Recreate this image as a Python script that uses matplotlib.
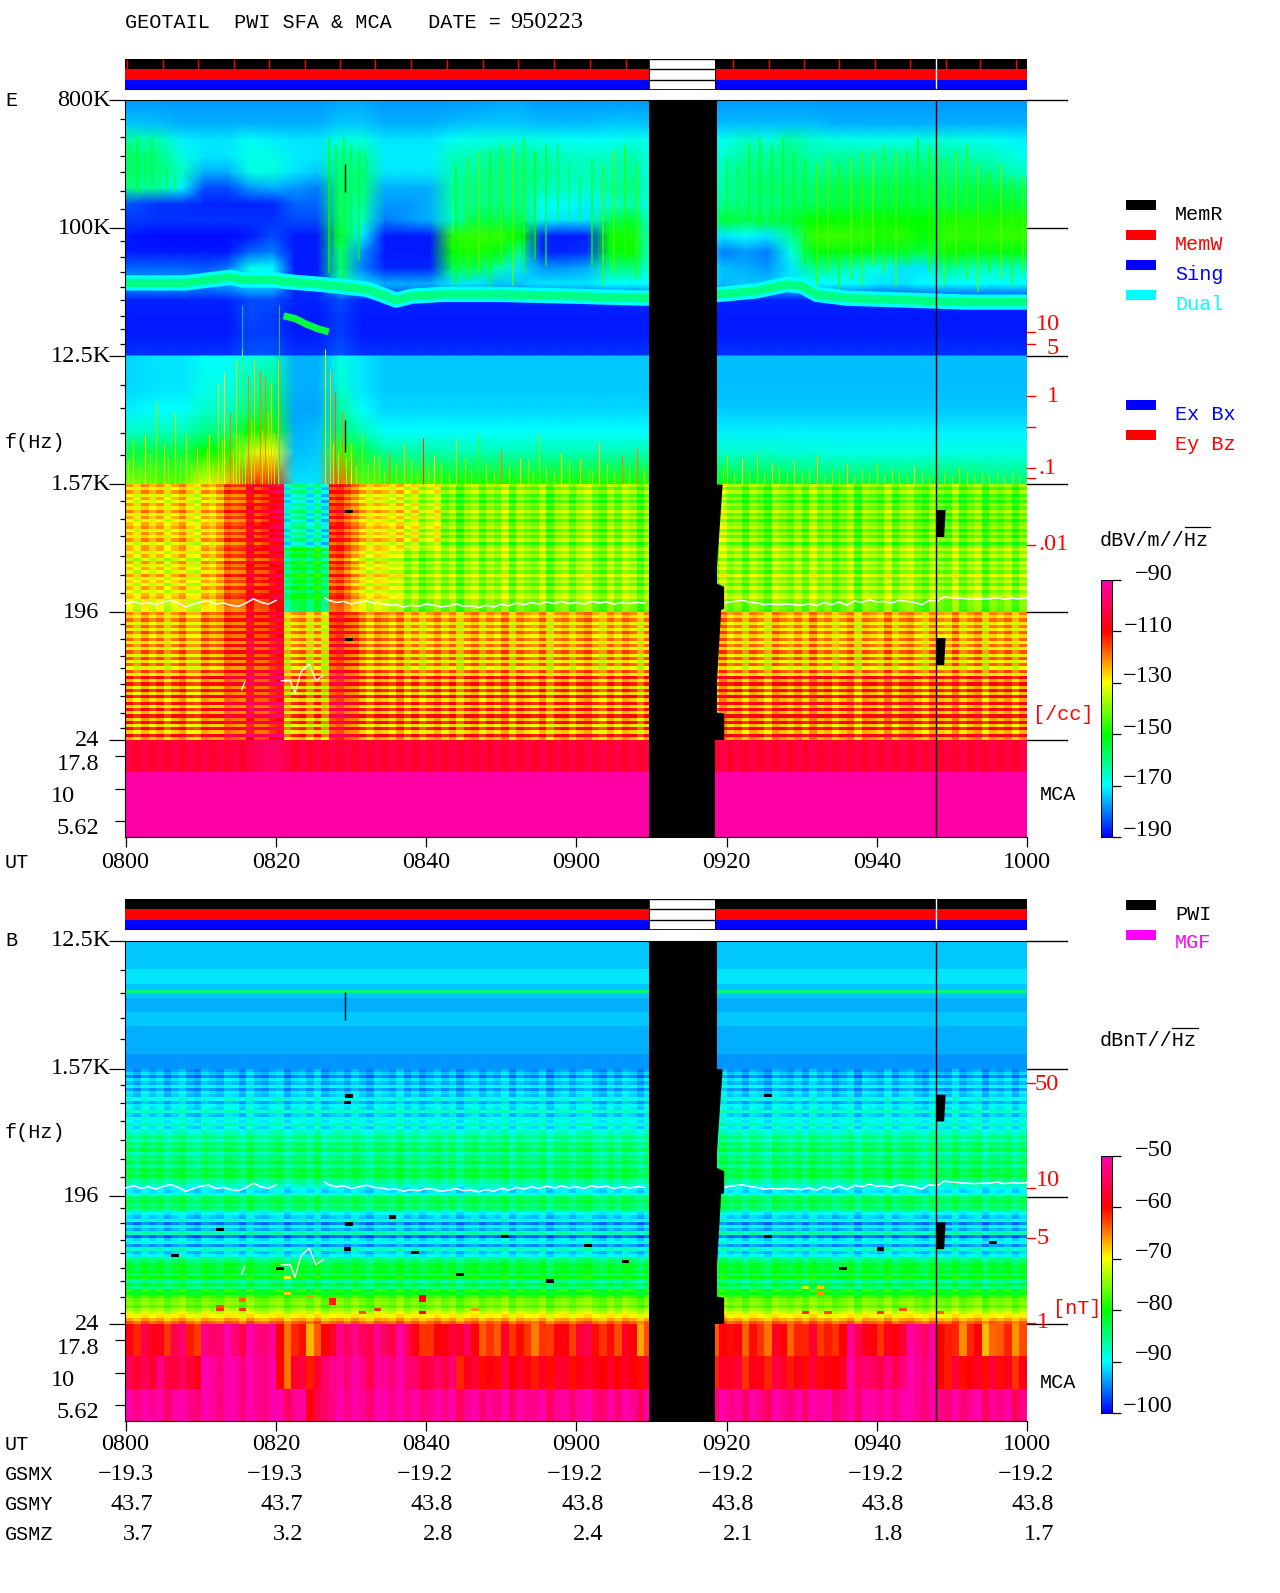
import numpy as np
import matplotlib
matplotlib.use("Agg")
import matplotlib.pyplot as plt
from matplotlib.colors import LinearSegmentedColormap, Normalize
from matplotlib.ticker import NullFormatter

W, H = 1280, 1593
FONT = "Liberation Serif"
MONO = "Liberation Mono"
plt.rcParams["font.family"] = [FONT, "DejaVu Serif"]

# colour scale
cmap = LinearSegmentedColormap.from_list("pwi", [(0, 0, 1), (0, 1, 1), (0, 1, 0), (1, 1, 0), (1, 0, 0), (1, 0, 0.67)])
cmap.set_bad("black")
norm_e = Normalize(-190, -90)
norm_b = Normalize(-100, -50)

# time in minutes after 0800
gap_start, gap_end = 69.6, 78.4
event_t = 107.9
time_ticks = [0, 20, 40, 60, 80, 100, 120]
time_labels = ["0800", "0820", "0840", "0900", "0920", "0940", "1000"]
gsmx = ["-19.3", "-19.3", "-19.2", "-19.2", "-19.2", "-19.2", "-19.2"]
gsmy = ["43.7", "43.7", "43.8", "43.8", "43.8", "43.8", "43.8"]
gsmz = ["3.7", "3.2", "2.8", "2.4", "2.1", "1.8", "1.7"]
status_ticks = [0.1, 4.9, 9.6, 14.4, 19, 23.8, 28.5, 33.2, 37.9, 42.8, 47.5, 52.2, 57, 61.8, 66.6, 80.8, 85.6, 90.3, 94.9, 99.7, 104.4, 109.2, 113.8, 118.6]

# frequency positions: one unit = one labelled interval (factor 8) below 800 kHz
freq_pos = [0, 1, 2, 3, 4, 5]
freq_minor = [0.15, 0.29, 0.44, 0.56, 0.71, 0.85, 1.10, 1.23, 1.34, 1.46, 1.56, 1.69, 1.79, 1.91, 2.23, 2.41, 2.60, 2.77,
              3.13, 3.27, 3.41, 3.56, 3.71, 3.85, 4.09, 4.21, 4.34, 4.44, 4.56, 4.66, 4.79, 4.91]


def f_at(pos):
    return 800e3 / 8.0 ** np.asarray(pos, dtype=float)


# E field, 800K to 12.5K: 16 rows, 40 columns of 3 minutes, magnitude in dB
e_high = [
    [178, 178, 178, 178, 178, 178, 178, 178, 178, 177, 177, 178, 178, 178, 178, 178, 177, 177, 178, 178, 178, 178, 178, 178, 178, 178, 178, 178, 178, 178, 178, 178, 178, 178, 178, 178, 178, 178, 178, 178],
    [174, 175, 176, 176, 176, 176, 176, 176, 176, 174, 174, 176, 176, 176, 175, 174, 174, 174, 175, 175, 175, 174, 174, 175, 175, 175, 175, 175, 175, 175, 175, 176, 176, 176, 176, 176, 176, 176, 176, 176],
    [162, 164, 171, 172, 172, 169, 171, 172, 172, 167, 167, 172, 172, 172, 169, 168, 167, 167, 168, 169, 169, 169, 168, 170, 170, 170, 169, 165, 167, 163, 166, 168, 168, 168, 168, 167, 167, 168, 169, 171],
    [158, 160, 168, 172, 172, 168, 168, 171, 172, 162, 162, 171, 171, 171, 165, 164, 162, 162, 164, 165, 166, 165, 163, 170, 170, 170, 166, 162, 162, 160, 164, 162, 163, 163, 162, 162, 163, 164, 165, 169],
    [158, 160, 165, 176, 176, 168, 167, 172, 174, 160, 160, 172, 172, 172, 164, 162, 160, 160, 162, 164, 165, 164, 162, 170, 170, 170, 164, 160, 160, 160, 161, 160, 160, 160, 159, 159, 160, 160, 162, 166],
    [161, 163, 171, 184, 184, 178, 176, 178, 180, 158, 160, 176, 176, 176, 162, 160, 160, 160, 164, 165, 166, 162, 160, 170, 170, 170, 162, 160, 158, 158, 158, 156, 156, 156, 156, 156, 157, 156, 156, 159],
    [183, 186, 186, 187, 187, 187, 187, 182, 182, 158, 163, 178, 178, 176, 163, 161, 160, 160, 169, 169, 171, 166, 163, 170, 170, 170, 161, 160, 160, 158, 157, 156, 155, 155, 155, 155, 155, 155, 153, 155],
    [185, 186, 186, 186, 186, 186, 186, 184, 184, 157, 166, 180, 178, 176, 164, 156, 156, 157, 171, 172, 172, 157, 154, 170, 170, 170, 154, 156, 156, 154, 150, 150, 149, 149, 150, 150, 148, 148, 148, 148],
    [188, 189, 189, 189, 189, 188, 184, 188, 188, 154, 172, 188, 188, 188, 147, 146, 146, 150, 187, 188, 187, 149, 148, 170, 170, 170, 172, 170, 172, 162, 146, 145, 146, 148, 147, 151, 146, 147, 146, 146],
    [188, 188, 188, 188, 188, 182, 180, 188, 188, 159, 178, 188, 188, 188, 149, 148, 151, 161, 187, 187, 186, 151, 149, 170, 170, 170, 180, 178, 180, 168, 151, 151, 151, 153, 153, 156, 149, 151, 151, 151],
    [182, 182, 182, 183, 181, 168, 170, 188, 188, 159, 180, 187, 187, 187, 157, 157, 163, 172, 178, 178, 176, 161, 159, 170, 170, 170, 175, 176, 178, 172, 161, 163, 166, 168, 172, 172, 161, 165, 165, 165],
    [176, 176, 176, 178, 176, 172, 172, 187, 187, 165, 172, 176, 176, 176, 172, 172, 174, 174, 172, 172, 172, 170, 170, 170, 170, 170, 175, 174, 174, 172, 170, 170, 170, 172, 172, 170, 170, 170, 170, 170],
    [187, 187, 187, 187, 187, 184, 184, 187, 187, 184, 187, 187, 187, 187, 187, 187, 187, 187, 187, 187, 187, 187, 187, 187, 187, 187, 187, 187, 187, 187, 187, 187, 187, 187, 187, 187, 187, 187, 187, 187],
    [188, 188, 188, 188, 188, 184, 185, 188, 188, 185, 188, 188, 188, 188, 188, 188, 188, 188, 188, 188, 188, 188, 188, 188, 188, 188, 188, 188, 188, 188, 188, 188, 188, 188, 188, 188, 188, 188, 188, 188],
    [188, 188, 188, 188, 188, 185, 185, 188, 188, 185, 188, 188, 188, 188, 188, 188, 188, 188, 188, 188, 188, 188, 188, 188, 188, 188, 188, 188, 188, 188, 188, 188, 188, 188, 188, 188, 188, 188, 188, 188],
    [186, 186, 186, 186, 186, 183, 183, 186, 186, 183, 186, 186, 186, 186, 186, 186, 186, 186, 186, 186, 186, 186, 186, 186, 186, 186, 186, 186, 186, 186, 186, 186, 186, 186, 186, 186, 186, 186, 186, 186],
]

# E field, 12.5K to 1.57K
e_mid = [
    [173, 172, 172, 170, 170, 168, 166, 176, 176, 168, 172, 174, 174, 174, 174, 174, 174, 174, 174, 174, 174, 174, 174, 174, 174, 174, 175, 175, 175, 175, 175, 175, 175, 175, 175, 175, 175, 175, 175, 175],
    [173, 172, 172, 168, 168, 164, 160, 176, 176, 166, 172, 174, 174, 174, 174, 174, 174, 174, 174, 174, 174, 174, 174, 174, 174, 174, 175, 175, 175, 175, 175, 175, 175, 175, 175, 175, 175, 175, 175, 175],
    [171, 170, 170, 166, 166, 160, 156, 177, 177, 162, 170, 173, 173, 173, 173, 173, 173, 173, 173, 173, 173, 173, 173, 173, 173, 173, 174, 174, 174, 174, 174, 174, 174, 174, 174, 174, 174, 174, 174, 174],
    [166, 165, 165, 160, 160, 150, 148, 176, 175, 158, 165, 170, 170, 170, 170, 170, 170, 170, 170, 170, 170, 170, 170, 170, 170, 170, 171, 171, 171, 171, 171, 171, 171, 171, 171, 171, 171, 171, 171, 171],
    [156, 156, 156, 150, 148, 135, 130, 175, 174, 145, 156, 162, 163, 163, 164, 164, 164, 164, 164, 164, 164, 164, 164, 164, 164, 164, 166, 166, 166, 167, 167, 168, 168, 168, 168, 168, 168, 168, 168, 168],
    [140, 143, 143, 132, 125, 115, 112, 172, 172, 118, 143, 146, 146, 146, 148, 148, 148, 148, 148, 148, 148, 148, 148, 148, 148, 148, 152, 154, 154, 154, 156, 156, 156, 156, 156, 156, 156, 156, 158, 158],
]

# E field, 1.57K to 24: 4 coarse rows, 40 columns, refined by the row and column lists below
e_low = [
    [128, 128, 128, 128, 120, 113, 108, 165, 168, 114, 125, 130, 132, 135, 141, 141, 141, 141, 141, 141, 141, 141, 141, 141, 141, 141, 140, 142, 142, 142, 142, 142, 142, 142, 142, 142, 143, 143, 143, 143],
    [130, 130, 130, 128, 120, 113, 110, 155, 155, 116, 128, 132, 138, 139, 139, 139, 139, 139, 139, 139, 139, 139, 139, 139, 139, 139, 139, 139, 139, 139, 139, 139, 139, 139, 139, 139, 139, 139, 139, 139],
    [125, 125, 125, 122, 118, 112, 110, 125, 128, 112, 120, 123, 125, 125, 125, 125, 125, 125, 125, 125, 125, 125, 125, 125, 125, 125, 125, 125, 125, 125, 125, 125, 125, 125, 125, 125, 125, 125, 125, 125],
    [120, 120, 120, 118, 115, 110, 108, 122, 124, 110, 118, 120, 120, 120, 120, 120, 120, 120, 120, 120, 120, 120, 120, 120, 120, 120, 118, 118, 118, 118, 118, 118, 118, 118, 118, 118, 118, 118, 118, 118],
]
e_row_var = [4, -3, 5, -4, 2, -5, 4, -2, 6, -3, 3, -5, 1, 4, -4, 3, -3, 5, -5, 2, 4, -3, 3, -6, 5, -2, 3, -4, 6, -3, 2, -5, 4, -3, 2, 4, -3, -2, -3, -4,
             3, -4, 5, -5, 4, -5, 6, -4, 5, -6, 5, -6, 7, -5, 7, -6, 6, -7, 7, -5, 8, -7, 7, -8, 6, -8, 9, -7, 8, -9, 7, -8, 9, -6, 8, -9, 7, -8, 9, -5]
col_var = [2, -3, 4, -1, 3, -4, 1, 5, -2, -5, 3, 0, -3, 4, 2, -4, 5, -1, -3, 2, 4, -5, 1, 3, -2, 5, -4, 0, 2, -3, 4, -1, -5, 3, 1, -2, 5, -3, 2, -4,
           0, 4, -2, 3, -5, 1, 4, -3, 2, -1, 5, -4, 3, 0, -2, 4, -5, 1, 3, -3, 2, 5, -1, -4, 3, -2, 4, 1, -5, 2, -3, 5, 0, -4, 3, 1, -2, 4, -3, 5,
           -1, 2, -4, 3, 0, -5, 4, 1, -2, 3, -3, 5, -1, 2, -4, 0, 4, -5, 3, 1, -2, 5, -3, 2, 4, -1, -4, 3, 0, -2, 5, -3, 1, 4, -5, 2, -1, 3, -4, 2]

# upper hybrid band in the E panel
uhr_t = [0, 4, 8, 11, 14, 15.5, 20, 21, 26, 28, 32, 34, 36, 38, 42, 50, 60, 69, 79, 84, 88, 90, 92, 96, 104, 112, 120]
uhr_khz = [41, 41, 41, 43, 45, 43, 43, 42, 40, 39, 37, 34, 31, 33, 34, 34, 33, 32, 34, 36, 40, 39, 34, 32, 31, 30, 30]
blob_t = [21, 22.5, 24, 25.5, 27]
blob_khz = [24, 23, 21, 19.5, 18.5]

# streaks in the plumes, minutes with top and bottom frequency position
streak_t = [0.5, 1.5, 2.5, 3.5, 4.5, 5.5, 6.5, 27, 28, 29, 30, 31, 32, 44, 45.5, 47, 48.5, 50, 51.5, 53, 54.5, 56, 57.5, 59, 60.5, 62, 63.5, 65, 66.5, 68,
            80, 81.5, 83, 84.5, 86, 87.5, 89, 90.5, 92, 93.5, 95, 96.5, 98, 99.5, 101, 102.5, 104, 105.5, 107, 109, 110.5, 112, 113.5, 115, 116.5, 118, 119.5]
streak_top = [0.35, 0.3, 0.4, 0.3, 0.5, 0.5, 0.6, 0.3, 0.35, 0.3, 0.35, 0.4, 0.4, 0.5, 0.45, 0.4, 0.4, 0.35, 0.35, 0.3, 0.4, 0.35, 0.35, 0.5, 0.6, 0.45, 0.5, 0.4, 0.35, 0.5,
              0.45, 0.5, 0.35, 0.3, 0.35, 0.3, 0.4, 0.45, 0.5, 0.45, 0.5, 0.45, 0.4, 0.4, 0.35, 0.4, 0.4, 0.3, 0.35, 0.45, 0.4, 0.35, 0.5, 0.55, 0.5, 0.6, 0.6]
streak_bottom = [0.7, 0.72, 0.65, 0.7, 0.68, 0.7, 0.72, 1.35, 1.2, 1.4, 1.1, 1.25, 0.95, 1.45, 1.4, 1.35, 1.5, 1.3, 1.45, 1.35, 1.25, 1.3, 0.95, 0.95, 0.95, 1.3, 1.45, 1.35, 1.25, 1.4,
                 1.0, 0.98, 0.95, 1.0, 1.0, 0.95, 1.05, 1.3, 1.45, 1.35, 1.5, 1.4, 1.45, 1.3, 1.35, 1.45, 1.3, 1.2, 1.35, 1.45, 1.3, 1.4, 1.5, 1.35, 1.4, 1.45, 1.35]
streak_db = [-155, -152, -156, -153, -158, -155, -156, -150, -152, -148, -155, -152, -156, -150, -146, -143, -148, -145, -143, -147, -150, -152, -156, -158, -155, -148, -145, -143, -147, -146,
             -154, -155, -152, -150, -153, -151, -152, -148, -144, -143, -147, -143, -145, -142, -146, -143, -148, -150, -146, -144, -142, -146, -143, -147, -142, -146, -144]

# spikes rising out of the 1.57K boundary
spike_t = [1, 2.5, 4, 5, 6.5, 8, 9.5, 11, 12.2, 13, 13.8, 14.6, 15.5, 16.3, 17, 17.8, 18.5, 19.3, 20.2, 26.5, 27.2, 27.9, 28.8, 30, 31.5, 33, 35, 37, 39.5, 41, 44, 47, 50, 52.5, 55, 58, 60.5, 63, 66, 68,
           80, 82, 84, 86, 89, 92, 96, 100, 105, 111]
spike_khz = [3.2, 3.5, 6, 3, 5, 3.5, 2.8, 3.5, 8, 9.5, 5, 12, 14, 9, 12, 10, 9, 8, 12, 14, 10, 7, 5, 3, 3.5, 2.5, 2.6, 3, 3.3, 2.5, 3.3, 3.5, 2.7, 2.4, 3.6, 2.6, 2.4, 3.1, 2.5, 2.8,
             2.5, 2.4, 2.6, 2.2, 2.3, 2.5, 2.2, 2.2, 2.1, 2.1]
spike_db = [-135, -130, -140, -125, -135, -135, -125, -130, -135, -130, -120, -135, -135, -120, -125, -120, -120, -125, -125, -135, -125, -118, -120, -130, -140, -125, -120, -125, -115, -130, -135, -145, -120, -130, -140, -130, -125, -125, -120, -120,
            -135, -130, -135, -125, -135, -125, -125, -135, -130, -135]
short_t = [0.3, 1.7, 3.2, 3.8, 5.6, 7.2, 8.6, 10.2, 10.8, 11.6, 12.8, 14.2, 15, 15.9, 16.7, 18.1, 18.9, 19.7, 27.6, 28.3, 29.3, 30.6, 32.2, 33.7, 34.4, 36, 38, 38.8, 40.2, 42, 43, 45.2, 46, 48, 49, 51, 53.5, 54.2, 56, 57, 59, 61.6, 62, 64, 65, 67, 69,
           79.5, 81, 83, 85, 87, 88, 90, 91, 93, 94, 95, 97, 98, 99, 101, 102, 103, 104, 106, 107, 109, 110, 112, 113, 114, 115, 116, 117, 118, 119]
short_khz = [2.3, 2.1, 2.6, 2.2, 2.4, 2.5, 2.1, 2.3, 2.8, 2.2, 3.2, 2.7, 3.6, 2.9, 4.5, 3.8, 5, 3.6, 3, 2.6, 2.4, 2.1, 2.2, 2.5, 1.9, 2.2, 2.3, 1.9, 2.1, 2.2, 1.9, 2.4, 2, 2.2, 1.9, 2.1, 2.3, 1.9, 2.1, 1.9, 2.3, 2, 1.9, 2.2, 1.9, 2.1, 2,
             2.1, 1.9, 2, 1.9, 2.1, 1.9, 1.9, 2, 1.8, 2, 1.9, 1.8, 2, 1.9, 1.8, 2, 1.9, 1.8, 1.9, 1.8, 1.9, 1.8, 1.9, 1.8, 1.9, 1.8, 1.9, 1.8, 1.9, 1.8]

# electron gyrofrequency traces, same in both panels
fce_t = [0, 1, 2, 3, 4, 5, 6, 7, 8, 9, 10, 11, 12, 13, 14, 15, 16, 17, 18, 19, 20, np.nan,
         26.5, 27, 28, 29, 30, 31, 32, 33, 34, 35, 36, 37, 38, 39, 40, 41, 42, 43, 44, 45, 46, 47, 48, 49, 50, 51, 52, 53, 54, 55, 56, 57, 58, 59, 60, 61, 62, 63, 64, 65, 66, 67, 68, 69, np.nan,
         79, 80, 81, 82, 83, 84, 85, 86, 87, 88, 89, 90, 91, 92, 93, 94, 95, 96, 97, 98, 99, 100, 101, 102, 103, 104, 105, 106, 107, 108, 109, 110, 111, 112, 113, 114, 115, 116, 117, 118, 119, 120]
fce_hz = [224, 232, 222, 228, 220, 230, 236, 226, 212, 222, 230, 234, 222, 226, 218, 214, 226, 242, 228, 222, 236, np.nan,
          246, 236, 228, 232, 222, 228, 234, 226, 224, 218, 220, 212, 218, 214, 222, 218, 212, 216, 222, 214, 216, 210, 218, 212, 222, 216, 226, 220, 228, 222, 230, 224, 232, 224, 228, 222, 232, 226, 230, 222, 228, 224, 228, 226, np.nan,
          224, 228, 232, 236, 230, 226, 220, 222, 220, 222, 220, 218, 224, 216, 228, 220, 230, 218, 234, 228, 238, 230, 232, 226, 236, 232, 228, 220, 236, 232, 250, 246, 244, 242, 240, 242, 242, 246, 240, 244, 242, 244]
fce2_t = [15.4, 15.8, np.nan, 20.7, 21.9, 22.5, 23.3, 24.4, 25.3, 26.3]
fce2_hz = [55, 62, np.nan, 64, 64, 52, 74, 84, 64, 70]

# black data drop-outs at the end of the gap, in frequency position and minutes
edge_pos = [3, 3.77, 3.8, 3.97, 3.98, 4.78, 4.79, 5]
edge_t = [79.4, 78.5, 79.6, 79.6, 79.2, 78.4, 79.6, 79.6]
blobs_pos = [(3.2, 3.41), (4.2, 4.41)]

# B field, 1.57K to 24, row means in dB
b_noise = [-92, -92, -91, -92, -93, -92, -93, -93, -94]
b_rows = [-94, -92, -95, -91, -93, -90, -94, -91, -92, -89, -93, -90, -91, -88, -92, -89, -90, -87, -91, -88, -87, -85, -88, -84, -86, -83, -87, -84, -85, -82, -86, -83, -84, -82, -85, -86, -88, -90, -91, -89,
          -84, -83, -85, -84, -86, -90, -92, -88, -95, -90, -93, -87, -96, -91, -89, -94, -88, -92, -90, -86, -84, -82, -83, -81, -84, -80, -86, -82, -85, -79, -81, -78, -76, -75, -77, -74, -72, -70, -67, -64]
# (minute, row, dB): hot or missing cells of the B panel
b_hot = [(15, 72, -64), (15, 75, -62), (27, 72, -61), (27, 73, -61), (21, 65, -70), (21, 70, -68), (24, 71, -66), (39, 71, -60), (39, 72, -60), (39, 76, -60), (12, 75, -62), (12, 74, -63), (31, 76, -63), (33, 75, -62), (46, 75, -66),
         (90, 68, -72), (92, 70, -66), (92, 68, -68), (90, 76, -62), (93, 76, -63), (100, 76, -62), (103, 75, -63), (108, 76, -64),
         (29, 56, np.nan), (6, 58, np.nan), (20, 62, np.nan), (38, 57, np.nan), (44, 64, np.nan), (61, 55, np.nan), (56, 66, np.nan), (12, 50, np.nan), (35, 46, np.nan), (50, 52, np.nan), (66, 60, np.nan), (85, 52, np.nan), (95, 62, np.nan), (100, 56, np.nan), (115, 54, np.nan), (29, 10, np.nan), (85, 8, np.nan)]

# MCA channels
e_mca_1 = [-102, -105, -102, -105, -102, -105, -102, -105, -102, -105, -102, -105, -102, -105, -102, -105, -102, -100, -99, -99, -99, -102, -105, -102, -105, -102, -105, -102, -105, -102, -105, -102, -105, -102, -105, -102, -105, -102, -105, -102,
           -105, -102, -105, -102, -105, -102, -105, -102, -105, -102, -105, -102, -105, -102, -105, -102, -105, -102, -105, -102, -105, -102, -105, -102, -105, -102, -105, -102, -105, -102, -105, -102, -105, -102, -105, -102, -105, -102, -105, -102,
           -105, -102, -105, -102, -105, -102, -105, -102, -105, -102, -105, -102, -105, -102, -105, -102, -105, -102, -105, -102, -105, -102, -105, -102, -105, -102, -105, -102, -105, -102, -105, -102, -105, -102, -105, -102, -105, -102, -105, -102]
e_mca_2 = -91
e_mca_3 = -91
b_mca_1 = [-60, -58, -60, -56, -60, -54, -52, -54, -52, -52, -62, -62, -66, -58, -53, -54, -53, -55, -53, -60, -62, -58, -55, -62, -63, -60, -62, -64, -60, -61, -58, -60, -62, -60, -64, -60, -62, -60, -60,
           -62, -60, -62, -62, -60, -63, -60, -62, -60, -53, -60, -61, -58, -52, -52, -60, -64, -62, -65, -63, -64]
b_mca_2 = [-56, -57, -54, -57, -56, -51, -51, -51, -51, -51, -62, -58, -60, -52, -52, -52, -53, -52, -52, -55, -56, -55, -59, -59, -60, -58, -59, -60, -58, -59, -60, -58, -59, -60, -58, -60, -60, -60, -60,
           -60, -58, -60, -59, -58, -60, -59, -60, -58, -52, -55, -55, -54, -51, -51, -60, -59, -60, -58, -60, -60]
b_mca_3 = [-51, -51, -52, -51, -51, -51, -51, -51, -51, -51, -52, -52, -58, -52, -51, -51, -51, -51, -51, -51, -52, -51, -52, -52, -52, -52, -52, -51, -52, -52, -52, -52, -52, -52, -52, -52, -52, -52, -52,
           -52, -52, -52, -52, -52, -52, -52, -51, -52, -51, -51, -51, -51, -51, -51, -52, -52, -52, -52, -52, -53]

cbar_e_ticks = [-90, -110, -130, -150, -170, -190]
cbar_b_ticks = [-50, -60, -70, -80, -90, -100]

fig = plt.figure(figsize=(W / 100, H / 100), dpi=100, facecolor="white")


def pixel_axes(x0, y0, x1, y1, **kw):
    return fig.add_axes([x0 / W, 1 - y1 / H, (x1 - x0) / W, (y1 - y0) / H], **kw)


def spec_axes(y0, y1, top_pos, freq_labels_pos):
    ax = pixel_axes(125, y0, 1027, y1)
    ax.set_yscale("log")
    ax.set_xlim(-0.13, 120)
    ax.set_ylim(f_at(5), f_at(top_pos))
    ax.set_xticks([])
    ax.set_yticks(f_at(freq_labels_pos))
    ax.set_yticks(f_at([p for p in freq_minor if p > top_pos]), minor=True)
    ax.yaxis.set_major_formatter(NullFormatter())
    ax.yaxis.set_minor_formatter(NullFormatter())
    ax.tick_params(axis="y", which="major", length=11.5, width=0.9)
    ax.tick_params(axis="y", which="minor", length=3.6, width=0.9)
    for s in ["right", "bottom"]:
        ax.spines[s].set_visible(False)
    return ax


def mesh(ax, t, pos, values, norm, shading="flat"):
    return ax.pcolormesh(t, f_at(pos), np.asarray(values, dtype=float), cmap=cmap, norm=norm, shading=shading, rasterized=True)


def smooth_grid(values, pos0, pos1):
    v = np.asarray(values, dtype=float)
    t = np.arange(v.shape[1]) * 3 + 1.5
    t[0], t[-1] = 0, 120
    p = np.linspace(pos0, pos1, v.shape[0] * 2 + 1)[1::2]
    p[0], p[-1] = pos0, pos1
    return t, p, v


def draw_gap(ax):
    ax.axvspan(gap_start, 78.7, color="black", lw=0, zorder=4)
    ax.fill_betweenx(f_at(edge_pos), gap_start, edge_t, color="black", lw=0, zorder=4)
    ax.axvline(event_t, color="black", lw=1, zorder=5)
    for p0, p1 in blobs_pos:
        ax.fill_betweenx(f_at([p0, p1]), event_t, [109.1, 108.9], color="black", lw=0, zorder=5)
    ax.fill_betweenx(f_at([3.2, 3.23]), 29.2, 30.2, color="black", lw=0, zorder=5)
    ax.fill_betweenx(f_at([4.2, 4.23]), 29.2, 30.2, color="black", lw=0, zorder=5)
    ax.plot(fce_t, fce_hz, color="white", lw=1.1, zorder=3)
    ax.plot(fce2_t, fce2_hz, color="white", lw=1.0, zorder=3)


t_edges = np.arange(121)

# ---- E panel
ax_e = spec_axes(100, 740, 0, freq_pos)
t, p, v = smooth_grid(-np.array(e_high), 0, 2)
mesh(ax_e, t, p, v, norm_e, "gouraud")
t, p, v = smooth_grid(-np.array(e_mid), 2, 3)
mesh(ax_e, t, p, v, norm_e, "gouraud")
low = -np.repeat(np.repeat(np.array(e_low, dtype=float), 20, axis=0), 3, axis=1)
low = low + np.array(e_row_var)[:, None] + np.array(col_var)[None, :]
mesh(ax_e, t_edges, np.linspace(3, 5, 81), low, norm_e)
ax_e.vlines(streak_t, f_at(streak_bottom), f_at(streak_top), colors=[cmap(norm_e(d)) for d in streak_db], lw=1.2, alpha=0.8, zorder=2)
ax_e.plot(uhr_t, np.array(uhr_khz) * 1e3, color=cmap(norm_e(-170)), lw=11, solid_capstyle="butt", zorder=2)
ax_e.plot(uhr_t, np.array(uhr_khz) * 1e3, color=cmap(norm_e(-160)), lw=6, solid_capstyle="butt", zorder=2)
ax_e.plot(blob_t, np.array(blob_khz) * 1e3, color=cmap(norm_e(-155)), lw=5, solid_capstyle="butt", zorder=2)
ax_e.vlines(spike_t, f_at(3), np.array(spike_khz) * 1e3, colors=[cmap(norm_e(d)) for d in spike_db], lw=0.8, zorder=2)
ax_e.vlines(short_t, f_at(3), np.array(short_khz) * 1e3, colors=[cmap(norm_e(-138))], lw=0.8, zorder=2)
ax_e.vlines([15.4, 20.4], f_at(3), f_at(1.6), colors=[cmap(norm_e(-155))], lw=0.7, alpha=0.7, zorder=2)
ax_e.vlines([29.2, 29.2], f_at([0.5, 2.5]), f_at([0.72, 2.75]), color="black", lw=1, zorder=2)
draw_gap(ax_e)

mca_e = pixel_axes(125, 740, 1027, 837)
rows = np.vstack([e_mca_1, np.full(120, e_mca_2), np.full(120, e_mca_3)], dtype=float)
mca_e.pcolormesh(t_edges, [0, 1, 2, 3], rows, cmap=cmap, norm=norm_e, rasterized=True)

# ---- B panel
ax_b = spec_axes(941, 1324, 2, [2, 3, 4, 5])
noise = np.array(b_noise, dtype=float)[:, None]
mesh(ax_b, [0, 120], np.linspace(2, 3, len(b_noise) + 1), noise, norm_b)
ax_b.axhline(f_at(2.39), color=cmap(norm_b(-84)), lw=2, zorder=2)
low_b = np.array(b_rows, dtype=float)[:, None] + np.array(col_var)[None, :] * 0.3
for minute, row, db in b_hot:
    low_b[row, minute] = db
mesh(ax_b, t_edges, np.linspace(3, 5, 81), low_b, norm_b)
ax_b.vlines(29.2, f_at(2.4), f_at(2.62), color="black", lw=1, zorder=2)
draw_gap(ax_b)

mca_b = pixel_axes(125, 1324, 1027, 1421)
rows = np.vstack([b_mca_1, b_mca_2, b_mca_3], dtype=float)
rows = np.repeat(rows, 2, axis=1) + np.array(col_var)[None, :] * 0.5
mca_b.pcolormesh(t_edges, [0, 1, 2, 3], rows, cmap=cmap, norm=norm_b, rasterized=True)

for m in [mca_e, mca_b]:
    m.set_xlim(-0.13, 120)
    m.set_ylim(3, 0)
    m.axvspan(gap_start, gap_end, color="black", lw=0, zorder=4)
    m.axvline(event_t, color="black", lw=1, zorder=5)
    m.set_xticks(time_ticks)
    m.set_xticklabels([])
    m.set_yticks([0.5, 1.5, 2.5])
    m.set_yticklabels([])
    m.tick_params(axis="x", length=7, width=0.9)
    m.tick_params(axis="y", length=7.5, width=0.9)
    for s in ["right", "top"]:
        m.spines[s].set_visible(False)

# ---- status bars
for y0, with_ticks in [(59, True), (899, False)]:
    bar = pixel_axes(125, y0, 1027, y0 + 31)
    bar.set_xlim(-0.13, 120)
    bar.set_ylim(3, 0)
    bar.axis("off")
    for row, col in enumerate(["black", "red", "blue"]):
        bar.broken_barh([(-0.13, gap_start + 0.13), (gap_end, 120 - gap_end)], (row, 1), facecolors=col, lw=0)
    bar.hlines([0, 1, 2, 3], gap_start, gap_end, color="black", lw=1)
    bar.vlines([gap_start, gap_end], 0, 3, color="black", lw=0.6)
    bar.axvline(event_t, color="white", lw=1)
    if with_ticks:
        bar.vlines(status_ticks, 0, 1, color="red", lw=1)
    bar.hlines(3, -0.13, 120, color="black", lw=1.2)

# ---- colour bars
for y0, y1, ticks, norm in [(580, 837, cbar_e_ticks, norm_e), (1156, 1413, cbar_b_ticks, norm_b)]:
    cax = pixel_axes(1101, y0, 1112, y1)
    cax.pcolormesh([0, 1], np.linspace(norm.vmin, norm.vmax, 257), np.linspace(norm.vmin, norm.vmax, 256)[:, None], cmap=cmap, norm=norm)
    cax.set_xticks([])
    cax.yaxis.tick_right()
    cax.set_yticks(ticks)
    cax.set_yticklabels([])
    cax.tick_params(axis="y", length=6.5, width=0.9)
    for s in cax.spines.values():
        s.set_linewidth(0.7)

# ---- text and outer ticks, in pixel coordinates
ov = fig.add_axes([0, 0, 1, 1], facecolor="none", zorder=20)
ov.set_xlim(0, W)
ov.set_ylim(H, 0)
ov.axis("off")
FS = 17.5
FS_MONO = 14.5


def txt(x, y, s, color="black", ha="left"):
    ov.text(x, y + 2, s, color=color, ha=ha, va="center", fontsize=FS)


def mono(x, y, s, color="black", ha="left"):
    ov.text(x, y + 2, s, color=color, ha=ha, va="center", fontsize=FS_MONO, family=MONO)


mono(125, 20, "GEOTAIL  PWI SFA & MCA   DATE =")
txt(510, 20, "950223")

for x, y, s in [(111, 98, "800K"), (111, 226, "100K"), (111, 355, "12.5K"), (111, 482, "1.57K"), (99, 610, "196"), (99, 738, "24"),
                (99, 762, "17.8"), (75, 794, "10"), (99, 826, "5.62"),
                (111, 938, "12.5K"), (111, 1066, "1.57K"), (99, 1194, "196"), (99, 1322, "24"), (99, 1346, "17.8"), (75, 1378, "10"), (99, 1410, "5.62")]:
    txt(x, y, s, ha="right")
for x, y, s in [(5, 98, "E"), (5, 440, "f(Hz)"), (5, 860, "UT"), (5, 938, "B"), (5, 1130, "f(Hz)"), (5, 1443, "UT"), (5, 1472, "GSMX"), (5, 1502, "GSMY"), (5, 1532, "GSMZ")]:
    mono(x, y, s)

x_time = [125, 276, 426, 576, 726, 877, 1027]
x_pos = [153.6, 303, 453, 603.5, 753.6, 903.6, 1054]
for i in range(7):
    txt(x_time[i], 860, time_labels[i], ha="center")
    txt(x_time[i], 1443, time_labels[i], ha="center")
    txt(x_pos[i], 1472, gsmx[i].replace("-", "\u2212"), ha="right")
    txt(x_pos[i], 1502, gsmy[i], ha="right")
    txt(x_pos[i], 1532, gsmz[i], ha="right")

for y in [100, 228, 356, 484, 612, 740, 941, 1069, 1197, 1324]:
    ov.plot([1027, 1067], [y, y], color="black", lw=1)

for y in [332, 344, 396, 427, 468, 478, 545, 1083, 1188, 1238, 1323]:
    ov.plot([1027, 1035], [y, y], color="red", lw=1)
for x, y, s, ha in [(1036, 322, "10", "left"), (1053, 346, "5", "center"), (1053, 394, "1", "center"), (1038, 467, ".1", "left"), (1038, 543, ".01", "left"),
                    (1035, 1083, "50", "left"), (1036, 1179, "10", "left"), (1036, 1237, "5", "left"), (1037, 1321, "1", "left")]:
    txt(x, y, s, color="red", ha=ha)
mono(1033, 713, "[/cc]", color="red")
mono(1053, 1307, "[nT]", color="red")
mono(1040, 793, "MCA")
mono(1040, 1380, "MCA")

for y, yt, label, col in [(200, 212, "MemR", "black"), (230, 242, "MemW", "red"), (260, 272, "Sing", "blue"), (290, 302, "Dual", "cyan"),
                          (400, 412, "Ex Bx", "blue"), (430, 442, "Ey Bz", "red"), (900, 912, "PWI", "black"), (930, 941, "MGF", "magenta")]:
    ov.fill_between([1126, 1156], y, y + 10, color=col, lw=0)
    mono(1175, yt, label, color=col)

mono(1100, 538, "dBV/m//Hz")
ov.plot([1185, 1210], [527, 527], color="black", lw=0.9)
mono(1100, 1039, "dBnT//Hz")
ov.plot([1172, 1198], [1028, 1028], color="black", lw=0.9)

for ticks, ys in [(cbar_e_ticks, [572, 624, 674, 726, 776, 828]), (cbar_b_ticks, [1148, 1200, 1250, 1302, 1352, 1404])]:
    for tick, y in zip(ticks, ys):
        txt(1173, y, str(tick).replace("-", "\u2212"), ha="right")

fig.savefig("out.png", dpi=100)
